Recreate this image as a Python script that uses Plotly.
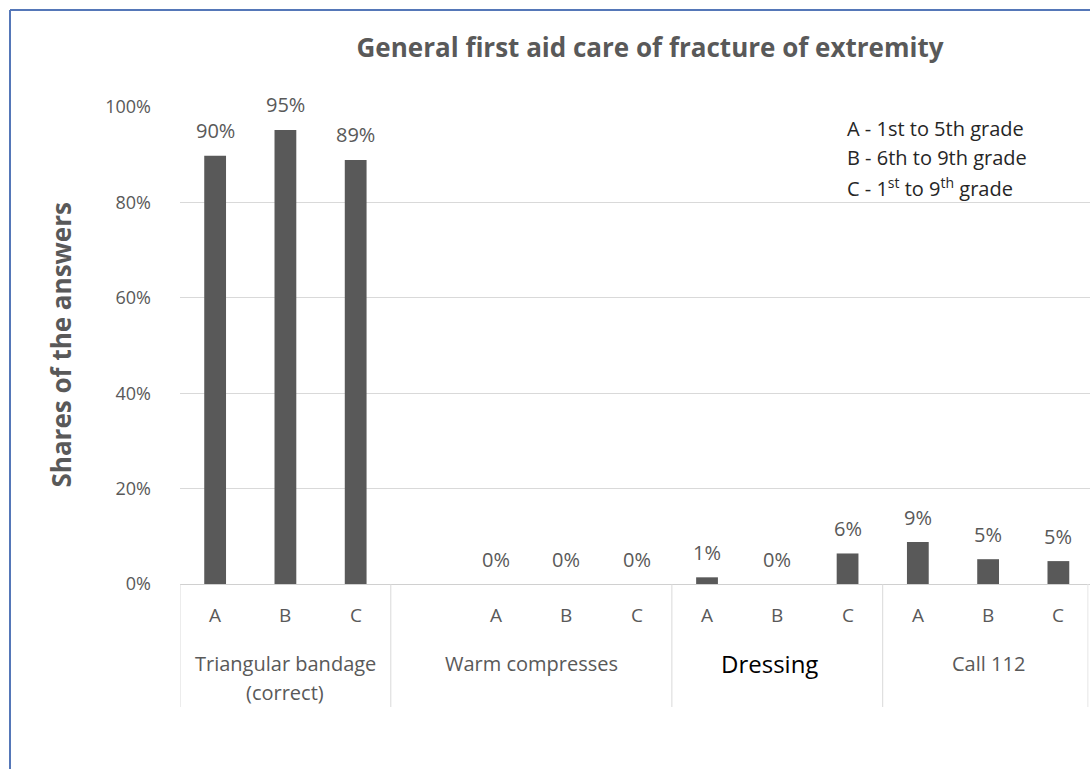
import plotly.graph_objects as go

# ---- data ----
groups = ["Triangular bandage<br>(correct)", "Warm compresses", "Dressing", "Call 112"]
group_slots = [["A", "B", "C"], ["", "A", "B", "C"], ["A", "B", "C"], ["A", "B", "C"]]
tri_vals = [0.898, 0.952, 0.889]
warm_vals = [None, 0.0, 0.0, 0.0]
dress_vals = [0.014, 0.0, 0.064]
call_vals = [0.088, 0.052, 0.048]
group_vals = [tri_vals, warm_vals, dress_vals, call_vals]
y_ticks = [0, 0.2, 0.4, 0.6, 0.8, 1.0]
legend_lines = ["A - 1st to 5th grade", "B - 6th to 9th grade",
                "C - 1<sup>st</sup> to 9<sup>th</sup> grade"]
title = "General first aid care of fracture of extremity"
ytitle = "Shares of the answers"

# ---- layout geometry (pixels) ----
W, H = 1090, 769
L, R, T, B = 180, 0, 107, 185
PW, PH = W - L - R, H - T - B
def px(x):
    return (x - L) / PW
def py(y):
    return (H - B - y) / PH

GRAY = "#595959"
FONT = "Open Sans"

xs, ys, labels = [], [], []
bounds = []
pos = 0
for g, slots, vals in zip(groups, group_slots, group_vals):
    start = pos
    for s, v in zip(slots, vals):
        xs.append(pos); ys.append(v); labels.append(s)
        pos += 1
    bounds.append((start, pos - 1))
n_slots = pos
xmax = n_slots - 0.55

fig = go.Figure()
fig.add_trace(go.Bar(x=xs, y=ys, width=0.31, marker_color=GRAY,
                     marker_line_width=0, hoverinfo="skip"))

ann = []
# data labels
for x, v in zip(xs, ys):
    if v is None:
        continue
    ann.append(dict(x=x, y=v, xref="x", yref="y", text=f"{round(v*100)}%",
                    showarrow=False, yshift=25, yanchor="middle",
                    font=dict(family=FONT, size=20, color=GRAY)))
# inner category labels
for x, s in zip(xs, labels):
    if s:
        ann.append(dict(x=x, y=py(615), xref="x", yref="paper", text=s,
                        showarrow=False, yanchor="middle",
                        font=dict(family=FONT, size=19, color=GRAY)))
# group labels
shapes = []
for (a, b), g in zip(bounds, groups):
    cx = (a + b) / 2
    lines = g.split("<br>")
    for i, line in enumerate(lines):
        if g == "Dressing":
            f = dict(family=FONT, size=24, color="#000000")
            xs_shift = -8
        else:
            f = dict(family=FONT, size=20, color=GRAY)
            xs_shift = 0
        ann.append(dict(x=cx, y=py(663 + 29 * i), xref="x", yref="paper", text=line,
                        showarrow=False, yanchor="middle", xshift=xs_shift, font=f))
    shapes.append(dict(type="line", xref="x", yref="paper", x0=a - 0.5, x1=a - 0.5,
                       y0=0, y1=py(707), line=dict(color="#d9d9d9", width=1)))
shapes.append(dict(type="line", xref="x", yref="paper", x0=xmax - 0.03, x1=xmax - 0.03,
                   y0=0, y1=py(707), line=dict(color="#e6e6e6", width=1)))
# legend text box
for i, t in enumerate(legend_lines):
    ann.append(dict(x=px(845), y=py(128 + 29.5 * i), xref="paper", yref="paper", text=t,
                    showarrow=False, xanchor="left", yanchor="middle",
                    font=dict(family=FONT, size=20, color="#262626")))
# y axis title
ann.append(dict(x=px(60), y=0.5, xref="paper", yref="paper", text=f"<b>{ytitle}</b>",
                textangle=-90, showarrow=False, xanchor="center", yanchor="middle",
                font=dict(family=FONT, size=26, color=GRAY)))
# chart border (top and left)
shapes.append(dict(type="line", xref="paper", yref="paper", x0=px(10), x1=px(W),
                   y0=py(10), y1=py(10), line=dict(color="#5577b8", width=2)))
shapes.append(dict(type="line", xref="paper", yref="paper", x0=px(10), x1=px(10),
                   y0=py(10), y1=py(H), line=dict(color="#5577b8", width=2)))

fig.update_layout(
    width=W, height=H,
    margin=dict(l=L, r=R, t=T, b=B, pad=0),
    paper_bgcolor="white", plot_bgcolor="white",
    showlegend=False,
    title=dict(text=f"<b>{title}</b>", x=650 / W, y=1 - 48 / H,
               xanchor="center", yanchor="middle",
               font=dict(family=FONT, size=26, color=GRAY)),
    xaxis=dict(range=[-0.5, xmax], showticklabels=False, showgrid=False,
               zeroline=False, showline=False, fixedrange=True),
    yaxis=dict(range=[0, 1], tickvals=y_ticks, tickformat=".0%",
               showgrid=True, gridcolor="#d9d9d9", gridwidth=1,
               zeroline=True, zerolinecolor="#d0d0d0", zerolinewidth=1,
               showline=False, ticks="", ticklabelstandoff=28,
               tickfont=dict(family=FONT, size=18, color=GRAY)),
    annotations=ann, shapes=shapes,
)
fig.write_html("out.html")
